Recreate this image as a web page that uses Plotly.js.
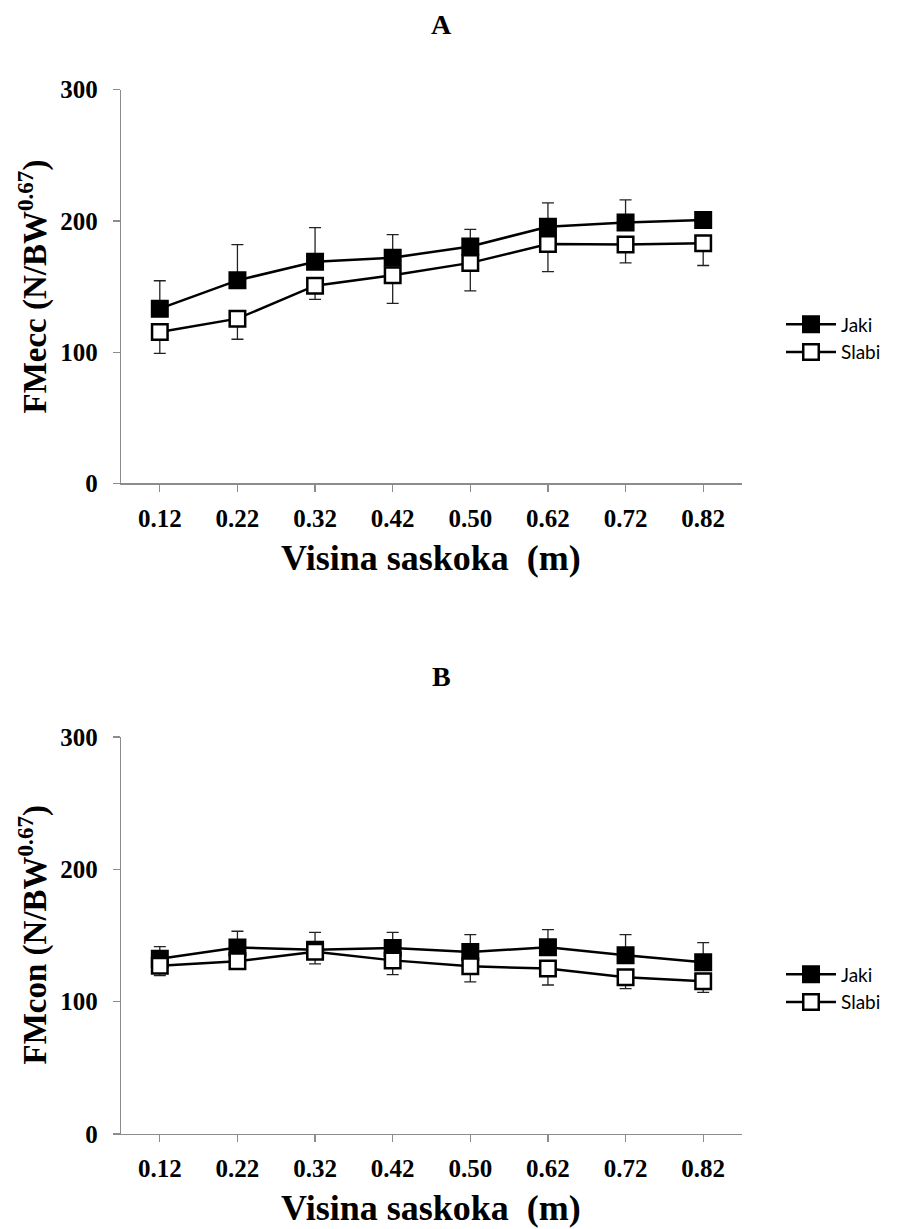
<!DOCTYPE html>
<html>
<head>
<meta charset="utf-8">
<script src="https://cdn.plot.ly/plotly-3.0.1.min.js"></script>
<style>html,body{margin:0;padding:0;background:#fff;}#chart{width:897px;height:1229px;}</style>
</head>
<body>
<div id="chart"></div>
<script>
// ---- data ----
const heights = ["0.12", "0.22", "0.32", "0.42", "0.50", "0.62", "0.72", "0.82"];
const seriesNames = ["Jaki", "Slabi"];
// Panel A: FMecc
const eccJaki = [133.1, 154.7, 168.9, 172.0, 180.5, 195.6, 198.7, 200.6];
const eccJakiSD = [21.3, 27.2, 25.9, 17.5, 13.0, 18.2, 17.3, 3.0];
const eccSlabi = [115.3, 125.5, 150.6, 158.5, 168.0, 182.3, 182.0, 183.0];
const eccSlabiSD = [16.2, 15.7, 10.4, 21.3, 21.4, 21.0, 14.0, 17.0];
// Panel B: FMcon
const conJaki = [132.5, 141.0, 139.3, 140.6, 137.6, 141.1, 135.0, 129.7];
const conJakiSD = [9.1, 12.2, 13.1, 11.8, 13.1, 13.4, 15.7, 14.9];
const conSlabi = [127.2, 130.5, 137.8, 131.2, 126.7, 125.0, 118.4, 115.4];
const conSlabiSD = [7.5, 5.0, 9.3, 10.8, 11.8, 12.4, 8.6, 8.4];
const yTicks = [0, 100, 200, 300];

const zeros = heights.map(() => 0);
const serif = "Liberation Serif, Times New Roman, serif";

function mk(name, y, sd, up, xa, ya, leg, filled) {
  return {
    type: "scatter", mode: "lines+markers", name: name,
    x: heights, y: y, xaxis: xa, yaxis: ya, legend: leg,
    line: {color: "#000", width: 2.5},
    marker: {symbol: "square", size: 15.5, color: filled ? "#000" : "#fff", line: {color: "#000", width: 2.5}},
    error_y: {type: "data", symmetric: false,
      array: up ? sd : zeros, arrayminus: up ? zeros : sd,
      color: "#222", thickness: 1.3, width: 6},
    cliponaxis: false
  };
}

const data = [
  mk(seriesNames[0], eccJaki, eccJakiSD, true, "x", "y", "legend", true),
  mk(seriesNames[1], eccSlabi, eccSlabiSD, false, "x", "y", "legend", false),
  mk(seriesNames[0], conJaki, conJakiSD, true, "x2", "y2", "legend2", true),
  mk(seriesNames[1], conSlabi, conSlabiSD, false, "x2", "y2", "legend2", false)
];

const W = 897, H = 1229;
const px = v => v / W;
const py = v => 1 - v / H;

function xax(anchor) {
  return {
    type: "category", categoryorder: "array", categoryarray: heights,
    range: [-0.5, 7.5], domain: [px(121), px(742)], anchor: anchor,
    showline: true, linecolor: "#8c8c8c", linewidth: 1.2,
    ticks: "outside", ticklen: 7, tickcolor: "#8c8c8c", tickwidth: 1.2,
    showgrid: false, zeroline: false, fixedrange: true,
    tickfont: {family: serif, size: 25, color: "#000", weight: 700},
    ticklabelstandoff: 5
  };
}
function yax(anchor, top, bottom) {
  return {
    range: [0, 300], tickvals: yTicks, domain: [py(bottom), py(top)], anchor: anchor,
    showline: true, linecolor: "#8c8c8c", linewidth: 1.2,
    ticks: "outside", ticklen: 7, tickcolor: "#8c8c8c", tickwidth: 1.2,
    showgrid: false, zeroline: false, fixedrange: true,
    tickfont: {family: serif, size: 25, color: "#000", weight: 700},
    ticklabelstandoff: 10
  };
}

const legendBase = {
  x: px(781), xanchor: "left", yanchor: "middle",
  font: {family: "Lato, Open Sans, sans-serif", size: 19, color: "#000"},
  bgcolor: "rgba(0,0,0,0)", itemwidth: 50, traceorder: "normal", tracegroupgap: 0
};

const titleFont = {family: serif, size: 28, color: "#000", weight: 700};
const axTitleFont = {family: serif, size: 36, color: "#000", weight: 700};

const layout = {
  width: W, height: H,
  margin: {l: 0, r: 0, t: 0, b: 0, autoexpand: false},
  paper_bgcolor: "#fff", plot_bgcolor: "#fff",
  showlegend: true,
  xaxis: xax("y"), yaxis: yax("x", 89.7, 483.3),
  xaxis2: xax("y2"), yaxis2: yax("x2", 737, 1134),
  legend: Object.assign({}, legendBase, {y: py(338.5)}),
  legend2: Object.assign({}, legendBase, {y: py(988.5)}),
  annotations: [
    {text: "A", x: px(441), y: py(24), xref: "paper", yref: "paper", showarrow: false, font: titleFont, xanchor: "center", yanchor: "middle"},
    {text: "B", x: px(441), y: py(676), xref: "paper", yref: "paper", showarrow: false, font: titleFont, xanchor: "center", yanchor: "middle"},
    {text: "Visina saskoka  (m)", x: px(431), y: py(558), xref: "paper", yref: "paper", showarrow: false, font: axTitleFont, xanchor: "center", yanchor: "middle"},
    {text: "Visina saskoka  (m)", x: px(431), y: py(1208), xref: "paper", yref: "paper", showarrow: false, font: axTitleFont, xanchor: "center", yanchor: "middle"},
    {text: "FMecc (N/BW<sup>0.67</sup>)", x: px(33), y: py(286.5), xref: "paper", yref: "paper", showarrow: false, textangle: -90, font: {family: serif, size: 33, color: "#000", weight: 700}, xanchor: "center", yanchor: "middle"},
    {text: "FMcon (N/BW<sup>0.67</sup>)", x: px(33), y: py(935.5), xref: "paper", yref: "paper", showarrow: false, textangle: -90, font: {family: serif, size: 33, color: "#000", weight: 700}, xanchor: "center", yanchor: "middle"}
  ]
};

Plotly.newPlot("chart", data, layout, {displayModeBar: false, staticPlot: true});
</script>
</body>
</html>
